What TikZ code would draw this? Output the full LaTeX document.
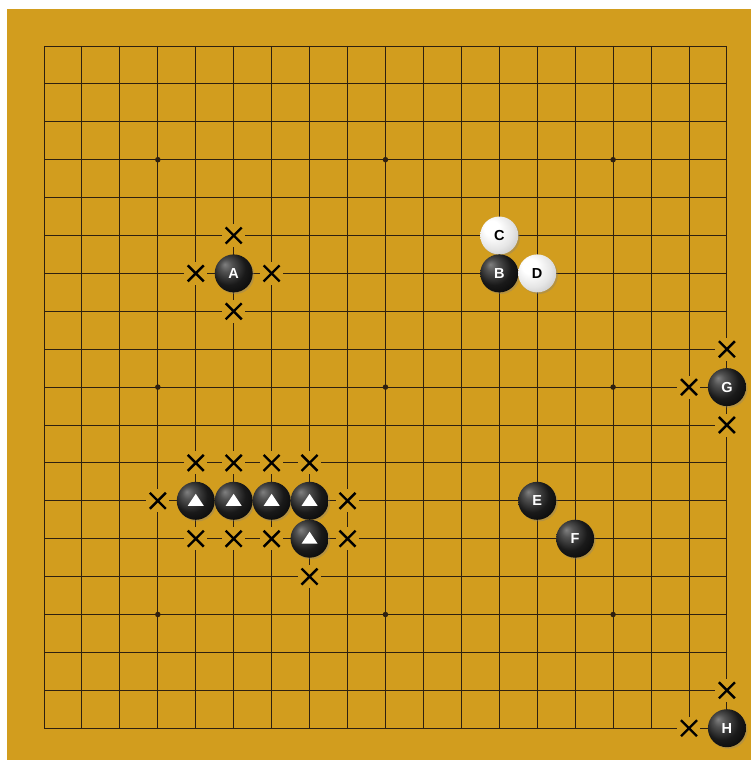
\documentclass[tikz,border=0pt]{standalone}
\usepackage{fontspec}
\setmainfont{Liberation Sans}
\usetikzlibrary{shadows}
\definecolor{board}{HTML}{D29D1E}
\definecolor{margin}{HTML}{FFFFFF}
\definecolor{gridc}{HTML}{2E2010}
\pgfdeclareradialshading{wball}{\pgfpoint{-12bp}{12bp}}{%
  color(0bp)=(white); color(10bp)=(white); color(24bp)=(white!90!black);
  color(40bp)=(white!72!black); color(50bp)=(white!62!black)}
\pgfdeclareradialshading{bball}{\pgfpoint{-12bp}{12bp}}{%
  color(0bp)=(black!50); color(8bp)=(black!68); color(22bp)=(black!90);
  color(40bp)=(black); color(50bp)=(black)}
\tikzset{
  gridline/.style={draw=gridc, line width=0.9pt},
  xmark/.style={rectangle, fill=board, minimum size=23pt, inner sep=0pt,
    path picture={
      \draw[black, line width=2.4pt]
        ([shift={(-8pt,-8pt)}]path picture bounding box.center) --
        ([shift={(8pt,8pt)}]path picture bounding box.center)
        ([shift={(-8pt,8pt)}]path picture bounding box.center) --
        ([shift={(8pt,-8pt)}]path picture bounding box.center);}},
  stone/.style={circle, minimum size=38pt, inner sep=0pt,
    font=\fontsize{14.5}{14.5}\selectfont\bfseries,
    drop shadow={shadow xshift=1.6pt, shadow yshift=-1.6pt, opacity=0.35}},
  bstone/.style={stone, shading=bball, text=white},
  wstone/.style={stone, shading=wball, text=black},
  tristone/.style={bstone,
    path picture={
      \fill[white]
        ([shift={(0pt,7pt)}]path picture bounding box.center) --
        ([shift={(-8pt,-5pt)}]path picture bounding box.center) --
        ([shift={(8pt,-5pt)}]path picture bounding box.center) -- cycle;}},
  star/.style={circle, fill=gridc, minimum size=5.5pt, inner sep=0pt}
}
\begin{document}
\begin{tikzpicture}
\useasboundingbox (0pt,0pt) rectangle (751pt,-760pt);
\fill[margin] (0pt,0pt) rectangle (751pt,-760pt);
\fill[board] (7pt,-9pt) rectangle (751pt,-760pt);
\begin{scope}[shift={(44pt,-46pt)}, x=37.94pt, y=-37.9pt]
  \foreach \k in {0,...,18} {
    \draw[gridline] (\k,0) -- (\k,18);
    \draw[gridline] (0,\k) -- (18,\k);
  }
  \foreach \i in {3,9,15} \foreach \j in {3,9,15}
    \node[star] (s\i\j) at (\i,\j) {};
  % A
  \node[xmark] (xa1) at (5,5) {};
  \node[xmark] (xa2) at (4,6) {};
  \node[xmark] (xa3) at (6,6) {};
  \node[xmark] (xa4) at (5,7) {};
  \node[bstone] (A) at (5,6) {A};
  % B C D
  \node[wstone] (C) at (12,5) {C};
  \node[bstone] (B) at (12,6) {B};
  \node[wstone] (D) at (13,6) {D};
  % G
  \node[xmark] (xg1) at (18,8) {};
  \node[xmark] (xg2) at (17,9) {};
  \node[xmark] (xg3) at (18,10) {};
  \node[bstone] (G) at (18,9) {G};
  % triangle group
  \foreach \i in {4,5,6,7} \node[xmark] (xt\i) at (\i,11) {};
  \node[xmark] (xl) at (3,12) {};
  \node[xmark] (xr) at (8,12) {};
  \foreach \i in {4,5,6} \node[xmark] (xb\i) at (\i,13) {};
  \node[xmark] (xr2) at (8,13) {};
  \node[xmark] (xbot) at (7,14) {};
  \foreach \i in {4,5,6,7} \node[tristone] (t\i) at (\i,12) {};
  \node[tristone] (t8) at (7,13) {};
  % E F
  \node[bstone] (E) at (13,12) {E};
  \node[bstone] (F) at (14,13) {F};
  % H
  \node[xmark] (xh1) at (18,17) {};
  \node[xmark] (xh2) at (17,18) {};
  \node[bstone] (H) at (18,18) {H};
\end{scope}
\end{tikzpicture}
\end{document}
